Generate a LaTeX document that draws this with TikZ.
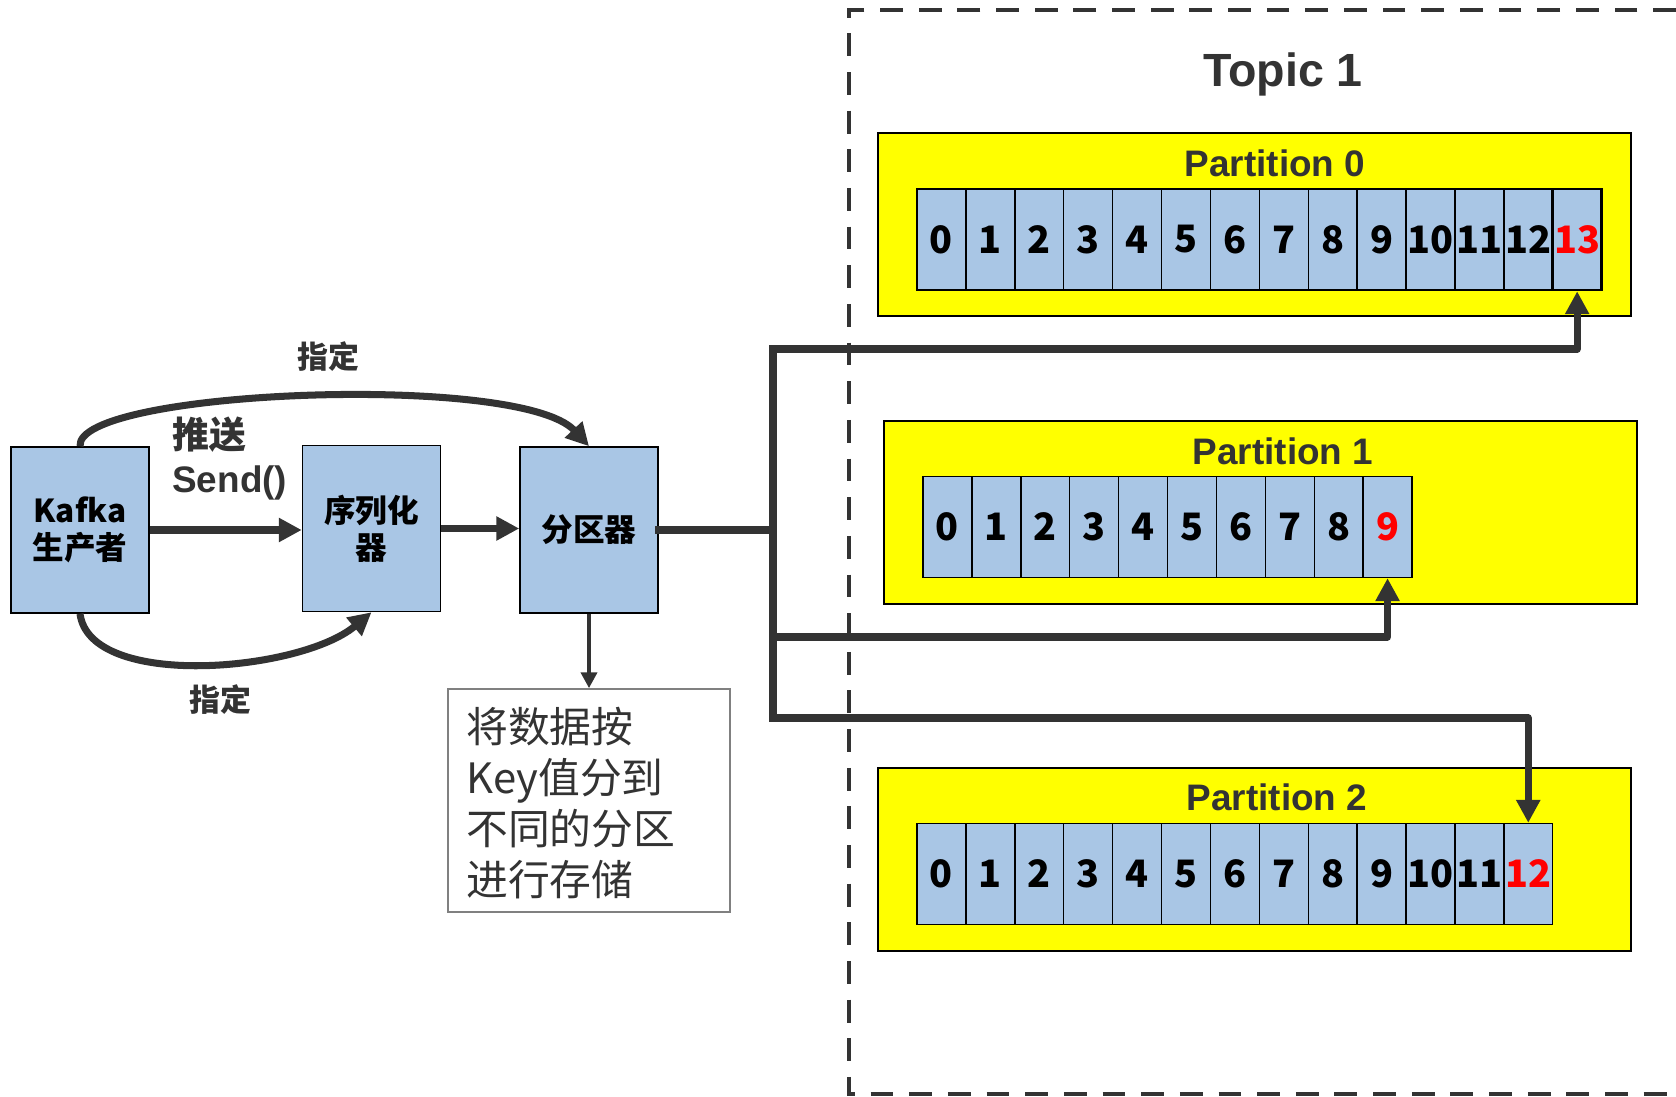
\documentclass[tikz,border=0pt]{standalone}
\usepackage{fontspec}
\setmainfont{Liberation Sans}
\newfontfamily\cjk{Noto Sans CJK SC}
\usetikzlibrary{arrows.meta}
\usetikzlibrary{positioning}
\definecolor{cblue}{RGB}{169, 198, 229}
\definecolor{dgray}{RGB}{51, 51, 51}
\definecolor{mred}{RGB}{255, 0, 0}
\definecolor{myellow}{RGB}{255, 255, 0}
\tikzset{blk/.style = {draw, line width = 0.9pt, fill = cblue, inner sep = 0,
                       minimum width = 2.76cm, minimum height = 3.32cm, align = center,
                       font = \cjk\bfseries\fontsize{18pt}{21pt}\selectfont}}
\tikzset{cell/.style = {draw, line width = 0.8pt, fill = cblue, inner sep = 0,
                        minimum width = 0.978cm, minimum height = 2.02cm,
                        font = \cjk\bfseries\fontsize{21.5pt}{24pt}\selectfont}}
\tikzset{part/.style = {draw, line width = 0.9pt, fill = myellow, minimum width = 15.06cm, minimum height = 3.66cm}}
\tikzset{ptitle/.style = {text = dgray, font = \bfseries\fontsize{21pt}{24pt}\selectfont}}
\tikzset{flow/.style = {draw = dgray, line width = 4pt, line join = round,
                        -{Triangle[length = 13pt, width = 13pt]}}}
\tikzset{wire/.style = {draw = dgray, line width = 4pt, line cap = rect}}
\tikzset{lbl/.style = {text = dgray, font = \cjk\bfseries\fontsize{17.6pt}{20pt}\selectfont}}

\begin{document}
\begin{tikzpicture}[x = 0.02cm, y = -0.02cm]
    \useasboundingbox (0, 0) rectangle (1676, 1097);

    % topic
    \draw [dgray, line width = 2.6pt, dash pattern = on 13pt off 9pt] (1676, 10) -- (849, 10) -- (849, 1094) -- (1676, 1094);
    \node [text = dgray, font = \bfseries\fontsize{26.5pt}{30pt}\selectfont] (topic) at (1283, 74) {Topic 1};

    % partitions
    \node [part] (p0) at (1254.5, 224.5) {};
    \node [ptitle] (p0t) at (1275, 163) {Partition 0};
    \foreach \i in {0,...,12}
        \node [cell] (p0c\i) at ({941.45 + 48.9*\i}, 239.5) {\i};
    \node [cell, text = mred, line width = 1.5pt] (p0c13) at ({941.45 + 48.9*13}, 239.5) {13};

    \node [part] (p1) at (1260.5, 512.5) {};
    \node [ptitle] (p1t) at (1283, 451) {Partition 1};
    \foreach \i in {0,...,8}
        \node [cell] (p1c\i) at ({947.45 + 48.9*\i}, 527) {\i};
    \node [cell, text = mred] (p1c9) at ({947.45 + 48.9*9}, 527) {9};

    \node [part] (p2) at (1254.5, 859.5) {};
    \node [ptitle] (p2t) at (1277, 797) {Partition 2};
    \foreach \i in {0,...,11}
        \node [cell] (p2c\i) at ({941.45 + 48.9*\i}, 874) {\i};
    \node [cell, text = mred] (p2c12) at ({941.45 + 48.9*12}, 874) {12};

    % producer side
    \node [blk] (kafka) at (80, 530) {Kafka\\生产者};
    \node [blk] (serial) at (371.5, 528.5) {序列化\\器};
    \node [blk] (parti) at (589, 530) {分区器};

    \draw [flow] (kafka.east) -- (kafka.east -| serial.west);
    \draw [flow] (serial.east) -- (serial.east -| parti.west);
    \draw [flow] (kafka.north) .. controls (75, 390) and (520, 372) .. (parti.north);
    \draw [flow] (kafka.south) .. controls (90, 690) and (300, 672) .. (serial.south);

    \node [lbl] (zd1) at (328, 357) {指定};
    \node [lbl] (zd2) at (220, 700) {指定};
    \node [anchor = west, align = left, inner sep = 0, text = dgray,
           font = \bfseries\fontsize{21pt}{25pt}\selectfont] (send) at (172, 459) {{\cjk 推送}\\Send()};

    \node [draw = gray, line width = 0.9pt, minimum width = 5.64cm, minimum height = 4.46cm] (note) at (589, 800.5) {};
    \node [anchor = west, align = left, inner sep = 0, text = dgray,
           font = \cjk\fontsize{23.8pt}{29pt}\selectfont] (notetxt) at (466, 803) {将数据按\\Key值分到\\不同的分区\\进行存储};
    \draw [flow, line width = 2.5pt, -{Triangle[length = 9pt, width = 9pt]}] (parti) -- (note);

    % to partitions
    \coordinate (j0) at (773, 349);
    \coordinate (j1) at (773, 637);
    \coordinate (j2) at (773, 718);
    \draw [wire] (parti.east) -- (parti.east -| j0);
    \draw [wire] (j0) -- (j2);
    \draw [flow] (j0) -| (p0c13.south);
    \draw [flow] (j1) -| (p1c9.south);
    \draw [flow] (j2) -| (p2c12.north);
\end{tikzpicture}
\end{document}
